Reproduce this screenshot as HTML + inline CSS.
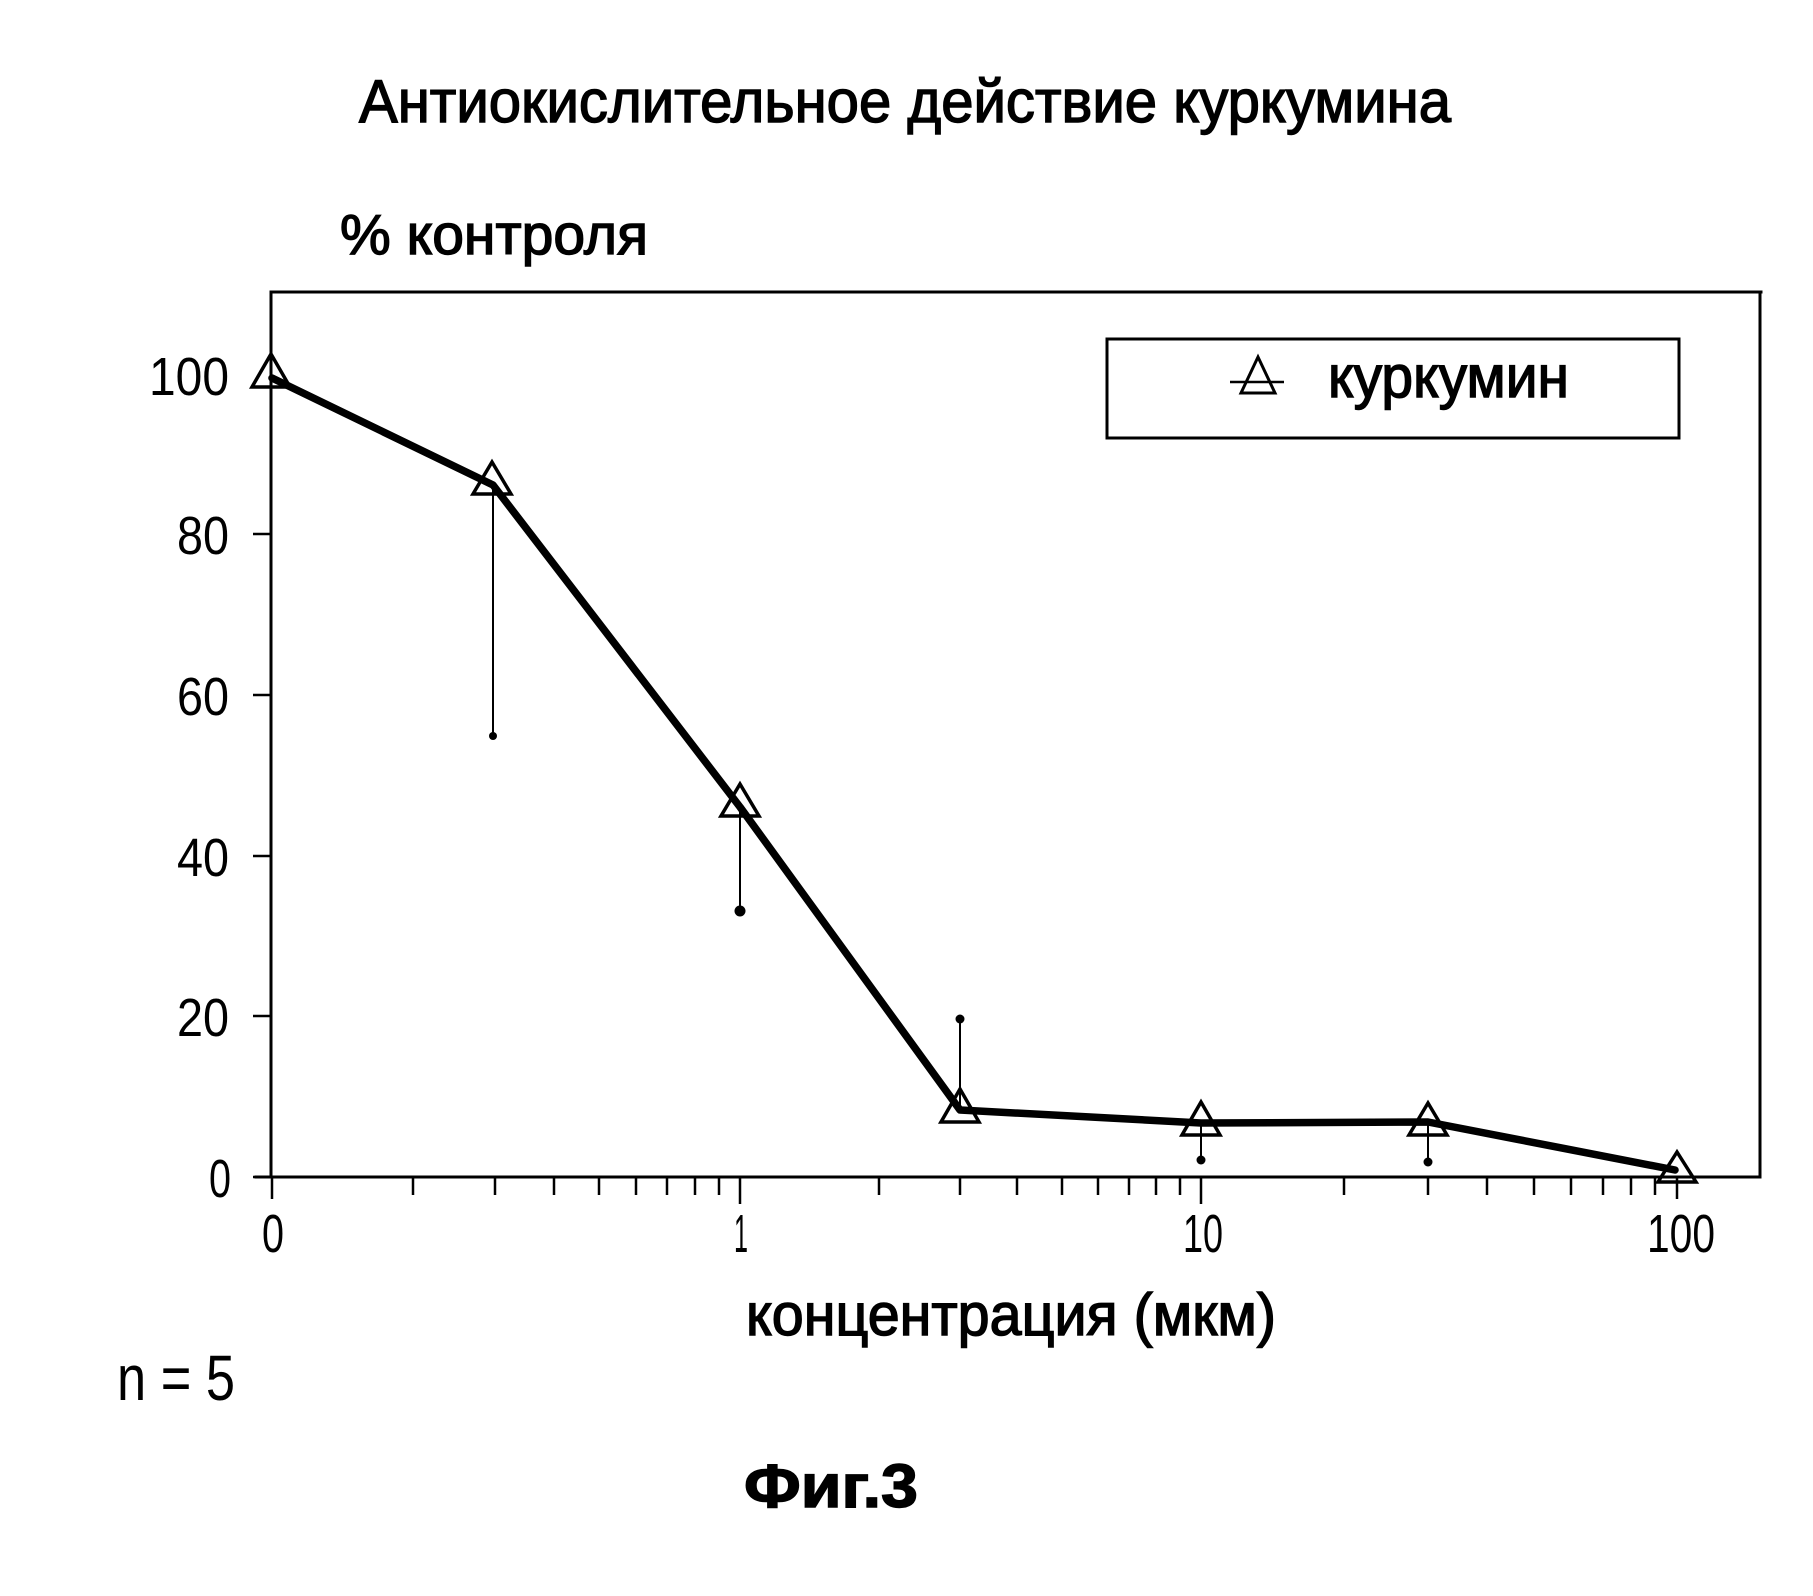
<!DOCTYPE html>
<html>
<head>
<meta charset="utf-8">
<style>
  html,body{margin:0;padding:0;background:#fff;}
  svg{display:block;}
  .t{font-family:"Liberation Sans","Noto Sans CJK SC",sans-serif;fill:#000;stroke:#000;stroke-width:1.4;}
  .n{font-family:"Liberation Sans Narrow","Liberation Sans",sans-serif;fill:#000;}
</style>
</head>
<body>
<svg width="1813" height="1596" viewBox="0 0 1813 1596" xmlns="http://www.w3.org/2000/svg">
  <rect x="0" y="0" width="1813" height="1596" fill="#fff"/>

  <!-- Title -->
  <text class="t" x="359" y="122" font-size="60" textLength="1092" lengthAdjust="spacingAndGlyphs">Антиокислительное действие куркумина</text>

  <!-- Y axis title -->
  <text class="t" x="340" y="254" font-size="57" textLength="308" lengthAdjust="spacingAndGlyphs">% контроля</text>

  <!-- Frame -->
  <g stroke="#000" stroke-width="3" fill="none" stroke-linecap="square">
    <line x1="271" y1="292" x2="1761" y2="292"/>
    <line x1="1760" y1="292" x2="1760" y2="1177"/>
    <line x1="271" y1="292" x2="271" y2="1177"/>
    <line x1="256" y1="1177" x2="1760" y2="1177"/>
  </g>

  <!-- Y ticks -->
  <g stroke="#000" stroke-width="2.5">
    <line x1="253" y1="1177" x2="271" y2="1177"/>
    <line x1="253" y1="1016" x2="271" y2="1016"/>
    <line x1="253" y1="856" x2="271" y2="856"/>
    <line x1="253" y1="695" x2="271" y2="695"/>
    <line x1="253" y1="534" x2="271" y2="534"/>
  </g>

  <!-- Y tick labels -->
  <g class="n" font-size="54" text-anchor="end">
    <text x="229" y="395" textLength="80" lengthAdjust="spacingAndGlyphs">100</text>
    <text x="229" y="554" textLength="52" lengthAdjust="spacingAndGlyphs">80</text>
    <text x="229" y="715" textLength="52" lengthAdjust="spacingAndGlyphs">60</text>
    <text x="229" y="876" textLength="52" lengthAdjust="spacingAndGlyphs">40</text>
    <text x="229" y="1036" textLength="52" lengthAdjust="spacingAndGlyphs">20</text>
    <text x="231" y="1197" textLength="22" lengthAdjust="spacingAndGlyphs">0</text>
  </g>

  <!-- X ticks -->
  <g stroke="#000" stroke-width="2.5">
    <line x1="272" y1="1177" x2="272" y2="1199"/>
    <line x1="740" y1="1177" x2="740" y2="1204"/>
    <line x1="1201" y1="1177" x2="1201" y2="1204"/>
    <line x1="1677" y1="1177" x2="1677" y2="1199"/>
    <line x1="413" y1="1177" x2="413" y2="1195"/>
    <line x1="495" y1="1177" x2="495" y2="1195"/>
    <line x1="554" y1="1177" x2="554" y2="1195"/>
    <line x1="599" y1="1177" x2="599" y2="1195"/>
    <line x1="636" y1="1177" x2="636" y2="1195"/>
    <line x1="667" y1="1177" x2="667" y2="1195"/>
    <line x1="695" y1="1177" x2="695" y2="1195"/>
    <line x1="719" y1="1177" x2="719" y2="1195"/>
    <line x1="879" y1="1177" x2="879" y2="1195"/>
    <line x1="960" y1="1177" x2="960" y2="1195"/>
    <line x1="1017" y1="1177" x2="1017" y2="1195"/>
    <line x1="1062" y1="1177" x2="1062" y2="1195"/>
    <line x1="1098" y1="1177" x2="1098" y2="1195"/>
    <line x1="1129" y1="1177" x2="1129" y2="1195"/>
    <line x1="1156" y1="1177" x2="1156" y2="1195"/>
    <line x1="1180" y1="1177" x2="1180" y2="1195"/>
    <line x1="1344" y1="1177" x2="1344" y2="1195"/>
    <line x1="1428" y1="1177" x2="1428" y2="1195"/>
    <line x1="1487" y1="1177" x2="1487" y2="1195"/>
    <line x1="1534" y1="1177" x2="1534" y2="1195"/>
    <line x1="1571" y1="1177" x2="1571" y2="1195"/>
    <line x1="1603" y1="1177" x2="1603" y2="1195"/>
    <line x1="1631" y1="1177" x2="1631" y2="1195"/>
    <line x1="1655" y1="1177" x2="1655" y2="1195"/>
  </g>

  <!-- X tick labels -->
  <g class="n" font-size="54" text-anchor="middle">
    <text x="273" y="1252" textLength="22" lengthAdjust="spacingAndGlyphs">0</text>
    <text x="741" y="1252" textLength="14" lengthAdjust="spacingAndGlyphs">1</text>
    <text x="1203" y="1252" textLength="40" lengthAdjust="spacingAndGlyphs">10</text>
    <text x="1681" y="1252" textLength="68" lengthAdjust="spacingAndGlyphs">100</text>
  </g>

  <!-- Error bars -->
  <g stroke="#000" stroke-width="2" fill="#000">
    <line x1="493" y1="487" x2="493" y2="736"/>
    <circle cx="493" cy="736" r="4" stroke="none"/>
    <line x1="740" y1="810" x2="740" y2="911"/>
    <circle cx="740" cy="911" r="5.5" stroke="none"/>
    <line x1="960" y1="1110" x2="960" y2="1019"/>
    <circle cx="960" cy="1019" r="4.5" stroke="none"/>
    <line x1="1201" y1="1125" x2="1201" y2="1160"/>
    <circle cx="1201" cy="1160" r="4.5" stroke="none"/>
    <line x1="1428" y1="1125" x2="1428" y2="1162"/>
    <circle cx="1428" cy="1162" r="4.5" stroke="none"/>
  </g>

  <!-- Data line -->
  <polyline points="272,378 493,485 740,807 960,1110 1201,1123 1428,1122 1675,1170" fill="none" stroke="#000" stroke-width="7.5" stroke-linejoin="round" stroke-linecap="round"/>

  <!-- Triangles -->
  <g fill="none" stroke="#000" stroke-width="3.5" stroke-linejoin="miter">
    <polygon points="271,354 252,387 290,387"/>
    <polygon points="492,462 473,494 511,494"/>
    <polygon points="740,784 721,816 759,816"/>
    <polygon points="960,1089 941,1122 979,1122"/>
    <polygon points="1201,1102 1182,1135 1220,1135"/>
    <polygon points="1428,1103 1409,1135 1447,1135"/>
    <polygon points="1677,1152 1658,1182 1696,1182"/>
  </g>

  <!-- Legend -->
  <rect x="1107" y="339" width="572" height="99" fill="none" stroke="#000" stroke-width="3"/>
  <line x1="1230" y1="382" x2="1284" y2="382" stroke="#000" stroke-width="2.5"/>
  <polygon points="1258,357 1241,393 1275,393" fill="none" stroke="#000" stroke-width="3"/>
  <text class="t" x="1328" y="397" font-size="59" textLength="241" lengthAdjust="spacingAndGlyphs">куркумин</text>

  <!-- X axis title -->
  <text class="t" x="746" y="1335" font-size="59" textLength="530" lengthAdjust="spacingAndGlyphs">концентрация (мкм)</text>

  <!-- n = 5 -->
  <text class="n" x="117" y="1400" font-size="64" textLength="118" lengthAdjust="spacingAndGlyphs">n = 5</text>

  <!-- Fig label -->
  <text class="t" x="744" y="1507" font-size="61" font-weight="bold" textLength="174" lengthAdjust="spacingAndGlyphs">Фиг.3</text>
</svg>
</body>
</html>
